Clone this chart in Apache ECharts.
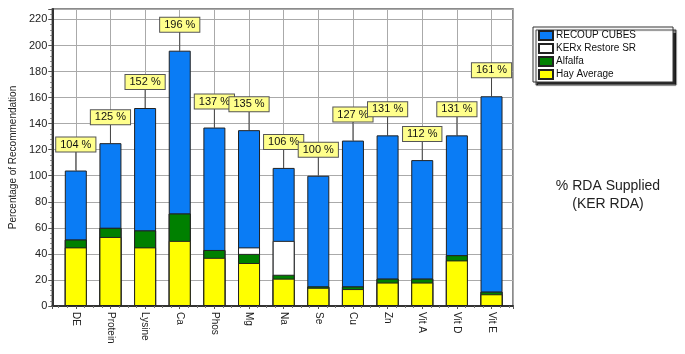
<!DOCTYPE html>
<html>
  <head>
    <meta charset="utf-8">
    <title>% RDA Supplied</title>
    <script src="https://cdn.jsdelivr.net/npm/echarts@6/dist/echarts.min.js"></script>
    <style>
      body { margin: 0; background: #fff; }
    </style>
  </head>
  <body>
    <div id="main" style="width:685px;height:354px;"></div>
    <script>
// categories and values (percent of recommendation)
var categories = ['DE', 'Protein', 'Lysine', 'Ca', 'Phos', 'Mg', 'Na', 'Se', 'Cu', 'Zn', 'Vit A', 'Vit D', 'Vit E'];
var hayAverage = [45, 53, 45, 50, 37, 33, 21, 14, 13, 18, 18, 35, 9];
var alfalfa    = [6, 7, 13, 21, 6, 7, 3, 1, 2, 3, 3, 4, 2];
var kerxRestore = [0, 0, 0, 0, 0, 5, 26, 0, 0, 0, 0, 0, 0];
var recoupCubes = [53, 65, 94, 125, 94, 90, 56, 85, 112, 110, 91, 92, 150];
var totals = [104, 125, 152, 196, 137, 135, 106, 100, 127, 131, 112, 131, 161];
var yTicks = [0, 20, 40, 60, 80, 100, 120, 140, 160, 180, 200, 220];

var myChart = echarts.init(document.getElementById('main'));

// bars are overlapped, so each one is drawn up to its running sum
function runningTop(parts) {
  return categories.map(function (c, i) {
    var s = 0;
    parts.forEach(function (p) { s += p[i]; });
    return [i, s];
  });
}

var barBase = {
  type: 'bar',
  barWidth: 22,
  barGap: '-100%',
  itemStyle: { borderColor: '#222', borderWidth: 1 }
};

myChart.setOption({
  animation: false,
  textStyle: { fontFamily: 'Liberation Sans, Arial, sans-serif' },
  title: {
    text: '% RDA Supplied\n(KER RDA)',
    left: 603,
    top: 172,
    textAlign: 'center',
    textStyle: { fontSize: 14, fontWeight: 'normal', color: '#222', lineHeight: 18 }
  },
  legend: {
    orient: 'vertical',
    left: 533,
    top: 27,
    padding: [3, 37, 2, 5],
    itemWidth: 14,
    itemHeight: 9,
    itemGap: 2,
    backgroundColor: '#fff',
    borderColor: '#333',
    borderWidth: 1,
    borderRadius: 0,
    shadowColor: 'rgba(0,0,0,0.85)',
    shadowOffsetX: 3,
    shadowOffsetY: 3,
    shadowBlur: 1,
    icon: 'rect',
    textStyle: { fontSize: 10, color: '#111', padding: [0, 0, 0, -2] },
    data: ['RECOUP CUBES', 'KERx Restore SR', 'Alfalfa', 'Hay Average']
  },
  grid: {
    left: 45,
    top: 9,
    width: 468,
    height: 297,
    show: true,
    borderColor: '#666',
    borderWidth: 1.5
  },
  xAxis: {
    type: 'value',
    min: -0.68,
    max: 12.62,
    splitNumber: 13,
    axisLine: { show: true, onZero: false, lineStyle: { color: '#333', width: 2 } },
    axisTick: { show: true, length: 3, lineStyle: { color: '#555' } },
    minorTick: { show: true, splitNumber: 4, length: 2, lineStyle: { color: '#777' } },
    splitLine: { show: true, lineStyle: { color: '#aaa', width: 1 } },
    axisLabel: {
      rotate: -90,
      margin: 6,
      fontSize: 10,
      color: '#222',
      formatter: function (v) {
        var k = Math.round(v);
        return Math.abs(v - k) < 1e-6 && categories[k] ? categories[k] : '';
      }
    }
  },
  yAxis: {
    type: 'value',
    min: 0,
    max: 228,
    interval: 20,
    name: 'Percentage of Recommendation',
    nameLocation: 'middle',
    nameGap: 31,
    nameTextStyle: { fontSize: 10, color: '#222' },
    axisLine: { show: true, onZero: false, lineStyle: { color: '#333', width: 2 } },
    axisTick: { show: true, length: 4, lineStyle: { color: '#555' } },
    minorTick: { show: true, splitNumber: 5, length: 2, lineStyle: { color: '#777' } },
    splitLine: { show: true, lineStyle: { color: '#aaa', width: 1 } },
    axisLabel: {
      fontSize: 11,
      color: '#222',
      margin: 5,
      formatter: function (v) {
        return yTicks.indexOf(v) >= 0 ? String(v) : '';
      }
    }
  },
  series: [
    Object.assign({}, barBase, {
      name: 'RECOUP CUBES',
      color: '#0a7cf5',
      data: runningTop([hayAverage, alfalfa, kerxRestore, recoupCubes])
    }),
    Object.assign({}, barBase, {
      name: 'KERx Restore SR',
      color: '#ffffff',
      data: runningTop([hayAverage, alfalfa, kerxRestore])
    }),
    Object.assign({}, barBase, {
      name: 'Alfalfa',
      color: '#008000',
      data: runningTop([hayAverage, alfalfa])
    }),
    Object.assign({}, barBase, {
      name: 'Hay Average',
      color: '#ffff00',
      data: runningTop([hayAverage])
    }),
    {
      // total labels with leader line
      type: 'custom',
      name: 'totals',
      z: 10,
      clip: false,
      data: categories.map(function (c, i) { return [i, totals[i]]; }),
      renderItem: function (params, api) {
        var p = api.coord([api.value(0), api.value(1)]);
        return {
          type: 'group',
          children: [
            {
              type: 'line',
              shape: { x1: p[0], y1: p[1], x2: p[0], y2: p[1] - 26 },
              style: { stroke: '#444', lineWidth: 1 }
            },
            {
              type: 'text',
              x: p[0],
              y: p[1] - 26,
              style: {
                text: api.value(1) + ' %',
                align: 'center',
                verticalAlign: 'middle',
                fontSize: 11,
                fontFamily: 'Liberation Sans, Arial, sans-serif',
                fill: '#111',
                backgroundColor: '#ffff8c',
                borderColor: '#555',
                borderWidth: 1,
                padding: [2, 4, 1, 4]
              }
            }
          ]
        };
      }
    }
  ]
});
    </script>
  </body>
</html>
